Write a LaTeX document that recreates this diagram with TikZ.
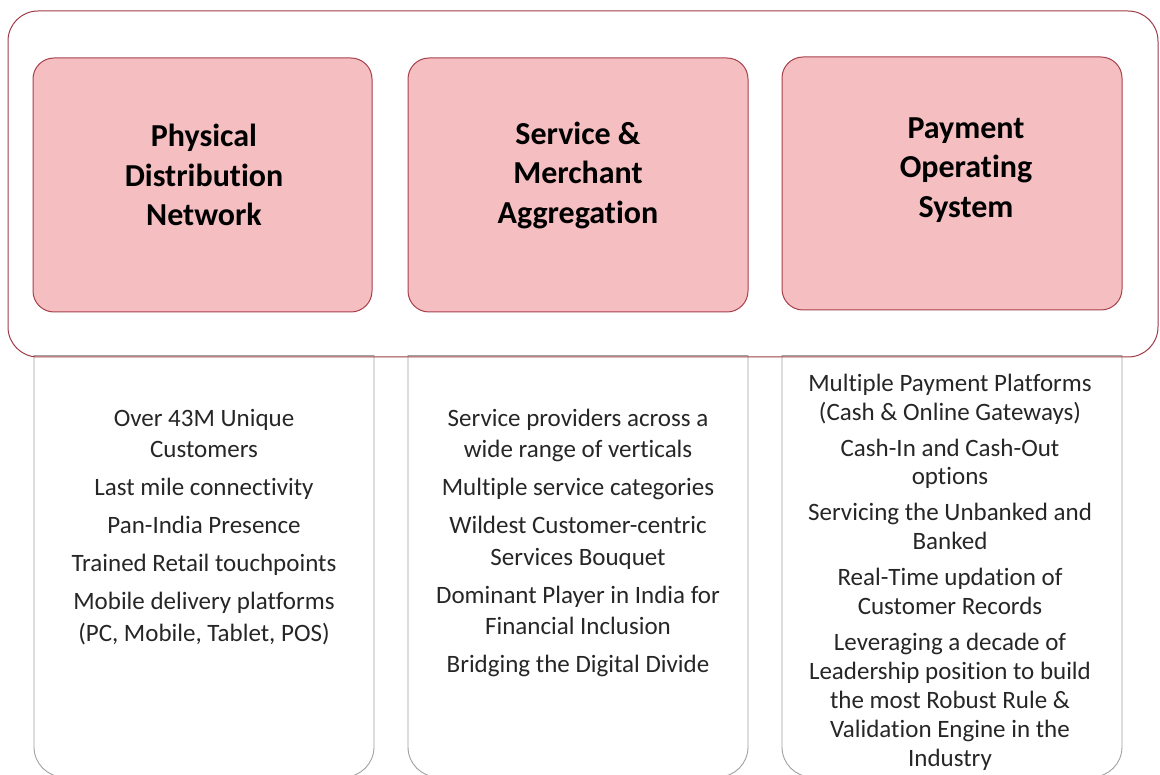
\documentclass[tikz,border=0pt]{standalone}
\usepackage{fontspec}
\setmainfont[Ligatures=NoCommon]{Carlito}
\definecolor{pinkfill}{HTML}{F5BEC0}
\definecolor{pinkline}{HTML}{A8404C}
\definecolor{outerline}{HTML}{9E3A44}
\definecolor{grayline}{HTML}{A0A0A0}
\definecolor{bodytext}{HTML}{262626}
\tikzset{
  headbox/.style={draw=pinkline, fill=pinkfill, line width=1pt, rounded corners=21pt},
  headtext/.style={align=center, font=\fontsize{32}{39.5}\selectfont\bfseries, text=black},
  listbox/.style={draw=grayline, line width=0.9pt, rounded corners=30pt},
  listtext/.style={align=center, text=bodytext, font=\fontsize{25}{31.5}\selectfont},
  listtextb/.style={align=center, text=bodytext, font=\fontsize{25}{28.9}\selectfont}
}
\begin{document}
\begin{tikzpicture}[x=1pt,y=-1pt]
\useasboundingbox (0,0) rectangle (1160,775);
% lower list panels (drawn first, open top edge drawn separately)
\draw[listbox] (34,355) -- (34,777) -- (374,777) -- (374,355);
\draw[draw=grayline, line width=0.9pt] (34,355) -- (374,355);
\draw[listbox] (408,355) -- (408,777) -- (748,777) -- (748,355);
\draw[draw=grayline, line width=0.9pt] (408,355) -- (748,355);
\draw[listbox] (782,355) -- (782,777) -- (1122,777) -- (1122,355);
\draw[draw=grayline, line width=0.9pt] (782,355) -- (1122,355);
% outer frame
\draw[draw=outerline, line width=1pt, rounded corners=30pt] (8,11) rectangle (1158,357);
% head boxes
\draw[headbox] (33,58) rectangle (372,312);
\draw[headbox] (408,58) rectangle (748,312);
\draw[headbox] (782,57) rectangle (1122,310);
\node[headtext] (h1) at (204,175) {Physical\\Distribution\\Network};
\node[headtext] (h2) at (578,175) {Service \&\\Merchant\\Aggregation};
\node[headtext] (h3) at (966,170) {Payment\\Operating\\System};
% list texts
\node[listtext] (l1) at (204,527) {Over 43M Unique\\Customers\\[6.5pt]Last mile connectivity\\[6.5pt]Pan-India Presence\\[6.5pt]Trained Retail touchpoints\\[6.5pt]Mobile delivery platforms\\(PC, Mobile, Tablet, POS)};
\node[listtext] (l2) at (578,543) {Service providers across a\\wide range of verticals\\[6.5pt]Multiple service categories\\[6.5pt]Wildest Customer-centric\\Services Bouquet\\[6.5pt]Dominant Player in India for\\Financial Inclusion\\[6.5pt]Bridging the Digital Divide};
\node[listtextb] (l3) at (950,572) {Multiple Payment Platforms\\(Cash \& Online Gateways)\\[7pt]Cash-In and Cash-Out\\options\\[7pt]Servicing the Unbanked and\\Banked\\[7pt]Real-Time updation of\\Customer Records\\[7pt]Leveraging a decade of\\Leadership position to build\\the most Robust Rule \&\\Validation Engine in the\\Industry};
\end{tikzpicture}
\end{document}
